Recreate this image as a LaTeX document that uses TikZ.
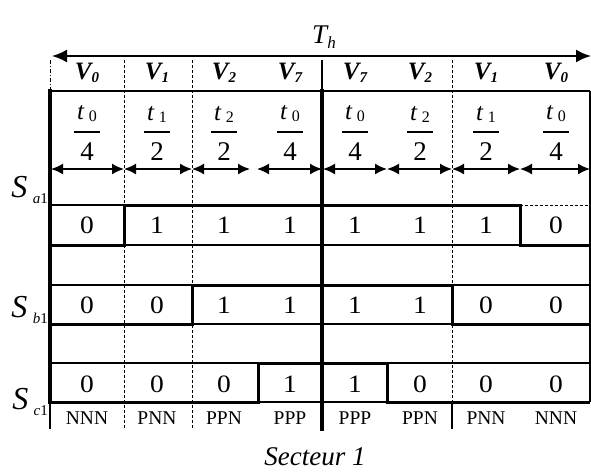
\documentclass[tikz,border=0pt]{standalone}
\usepackage{fontspec}
\setmainfont{Liberation Serif}
\usetikzlibrary{arrows.meta}
\newcommand{\lowsub}[1]{\raisebox{-6pt}{\fontsize{15}{15}\selectfont #1}}
\begin{document}
\begin{tikzpicture}[x=1pt,y=-1pt,
  thinline/.style={line width=1.1pt},
  thickline/.style={line width=3.6pt},
  wave/.style={line width=3pt, line join=miter},
  dashline/.style={line width=0.9pt, dash pattern=on 3pt off 2pt},
  dashdotline/.style={line width=0.9pt, dash pattern=on 4pt off 2pt on 1pt off 2pt},
  span/.style={line width=1.6pt, {Latex[length=12pt,width=11pt]}-{Latex[length=12pt,width=11pt]}},
  bit/.style={font=\fontsize{25}{25}\selectfont, inner sep=0pt, xscale=1.1},
  vlab/.style={font=\fontsize{25}{25}\selectfont\bfseries\itshape, inner sep=0pt},
  fnum/.style={font=\fontsize{25}{25}\selectfont, inner sep=0pt},
  fden/.style={font=\fontsize{27}{27}\selectfont, inner sep=0pt},
  state/.style={font=\fontsize{19.5}{19.5}\selectfont, inner sep=0pt},
  slab/.style={font=\fontsize{32}{32}\selectfont\itshape, anchor=base east, inner sep=0pt},
  title/.style={font=\fontsize{27}{27}\selectfont\itshape, inner sep=0pt},
]
\useasboundingbox (0,0) rectangle (591,472);

% total period arrow
\coordinate (thL) at (52,56);
\coordinate (thR) at (591,56);
\draw[line width=2pt, {Latex[length=15pt,width=13pt]}-{Latex[length=15pt,width=13pt]}] (thL) -- (thR);
\node[title] (Th) at (324,37) {T{\fontsize{17}{17}\selectfont\raisebox{-5pt}{h}}};

% horizontal grid lines
\draw[thinline] (50,91) -- (590,91);
\draw[thinline] (50,205) -- (520,205);
\draw[dashline] (520,205) -- (590,205);
\foreach \yy in {245,285,324,363,402} \draw[thinline] (50,\yy) -- (590,\yy);

% vertical lines
\draw[dashdotline] (50,60) -- (50,91);
\draw[thickline] (50,89) -- (50,404);
\draw[thinline] (50,402) -- (50,429);
\draw[dashline] (124,60) -- (124,429);
\draw[dashline] (192,60) -- (192,429);
\draw[dashline] (452,60) -- (452,402);
\draw[thinline] (452,402) -- (452,429);
\draw[thinline] (322,60) -- (322,91);
\draw[thickline] (322,89) -- (322,431);
\draw[thinline] (590,91) -- (590,402);

% switching waveforms
\draw[wave] (50,245) -- (124,245) -- (124,205) -- (520,205) -- (520,245) -- (590,245);
\draw[wave] (50,324) -- (192,324) -- (192,285) -- (452,285) -- (452,324) -- (590,324);
\draw[wave] (50,402) -- (258,402) -- (258,363) -- (387,363) -- (387,402) -- (590,402);

% duration arrows
\foreach \xa/\xb [count=\i] in {51/124,124/192,192/250,257/322,323/387,387/452,452/520,520/590} {
  \coordinate (aL\i) at (\xa,169);
  \coordinate (aR\i) at (\xb,169);
  \draw[span] (aL\i) -- (aR\i);
}

% column contents
\foreach \cx/\vv/\tn/\td/\sa/\sb/\sc/\st [count=\i] in {
   87/0/0/4/0/0/0/NNN,
  157/1/1/2/1/0/0/PNN,
  224/2/2/2/1/1/0/PPN,
  290/7/0/4/1/1/1/PPP,
  355/7/0/4/1/1/1/PPP,
  420/2/2/2/1/1/0/PPN,
  486/1/1/2/1/0/0/PNN,
  556/0/0/4/0/0/0/NNN} {
  \node[vlab] (v\i) at (\cx,73) {V{\fontsize{15}{15}\selectfont\raisebox{-3pt}{\vv}}};
  \node[fnum] (n\i) at (\cx,114) {\textit{t}\,{\fontsize{16}{16}\selectfont\raisebox{-2pt}{\tn}}};
  \draw[line width=1.2pt] (\cx-13,132) -- (\cx+13,132);
  \node[fden] (d\i) at (\cx,152) {\td};
  \node[bit] (a\i) at (\cx,225) {\sa};
  \node[bit] (b\i) at (\cx,305) {\sb};
  \node[bit] (c\i) at (\cx,384) {\sc};
  \node[state] (s\i) at (\cx,418) {\st};
}

% row labels
\node[slab] (Sa) at (48,197) {S\,\lowsub{\itshape a\upshape 1}};
\node[slab] (Sb) at (48,317) {S\,\lowsub{\itshape b\upshape 1}};
\node[slab] (Sc) at (48,409) {S\,\lowsub{\itshape c\upshape 1}};

\node[title] (sect) at (315,457) {Secteur 1};
\end{tikzpicture}
\end{document}
